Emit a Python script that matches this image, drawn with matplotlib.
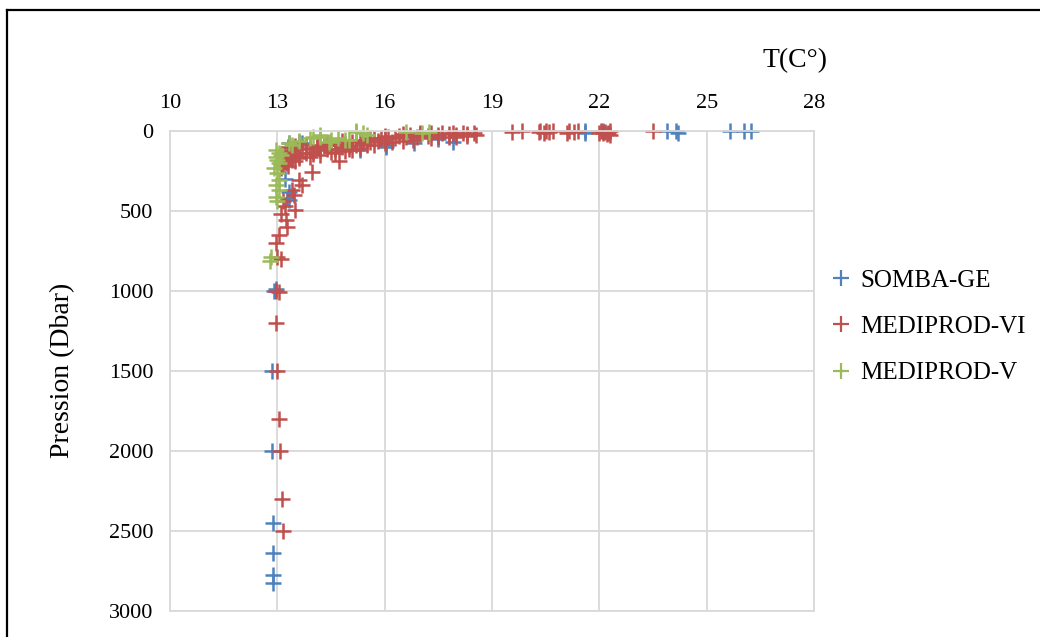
import matplotlib
matplotlib.use("Agg")
import matplotlib.pyplot as plt
from matplotlib.lines import Line2D

# temperature / pressure pairs
somba_t = [21.6, 21.6, 22.1, 23.9, 24.15, 24.2, 25.65, 26.05, 26.25,
           13.33, 13.7, 13.6, 15.3, 16.05, 16.05, 16.83, 17.9, 17.5, 14.5,
           13.33, 13.33, 13.27, 13.2,
           12.9, 12.95, 12.86, 12.86, 12.88, 12.88, 12.88, 12.88]
somba_p = [0, 10, 0, 0, 0, 12, 0, 0, 0,
           75, 75, 69, 119, 100, 88, 75, 69, 50, 90,
           381, 431, 419, 300,
           1000, 990, 1500, 2000, 2450, 2637, 2775, 2825]

vi_t = [23.5,
        22.3, 22.25, 22.2, 22.15, 22.1, 22.05, 22.0, 22.3,
        21.4, 21.3, 21.15, 21.1,
        20.7, 20.6, 20.5, 20.45, 20.35, 20.3,
        19.85, 19.55,
        18.55, 18.5, 18.3, 18.2, 18.0, 17.9, 17.8, 17.6, 17.5, 17.3, 17.2, 17.0,
        16.9, 16.7, 16.6, 16.4, 16.3, 16.1, 16.0, 15.9, 15.8, 15.7, 15.6, 15.5,
        15.4, 15.3, 15.2, 15.1, 15.0, 14.9, 14.8, 14.7, 14.6, 14.5, 14.4, 14.3,
        14.2, 14.1, 14.0, 13.9, 13.8, 13.7, 13.6, 13.5, 13.45, 13.4, 13.35, 13.3,
        13.25, 13.2, 13.2, 13.15, 13.15, 13.1,
        16.5, 16.0, 15.5, 15.0, 14.5, 14.0, 13.6, 17.5, 18.0,
        13.3, 13.5, 13.8, 14.1, 14.4, 14.8, 15.2, 15.6, 16.0, 16.5, 17.0,
        13.4, 13.6, 13.9, 14.2, 14.6, 14.9, 15.3, 15.7, 16.2, 16.8, 17.3,
        17.8, 18.3, 13.25, 13.3, 13.5,
        15.1, 14.73, 13.98, 13.6, 13.7, 13.4, 13.47, 13.5, 13.25, 13.27, 13.15,
        13.2, 13.1, 13.05, 12.97, 13.1, 13.0, 12.97, 13.05, 12.97, 13.0, 13.05,
        13.08, 13.12, 13.15]
vi_p = [0,
        0, 10, 20, 5, 15, 0, 10, 25,
        0, 5, 0, 10,
        0, 5, 0, 10, 0, 5,
        0, 5,
        25, 15, 20, 10, 25, 15, 20, 10, 25, 15, 30, 20,
        35, 25, 40, 30, 45, 35, 55, 45, 60, 50, 70, 55,
        75, 65, 85, 70, 95, 80, 100, 85, 110, 90, 115, 95,
        120, 100, 130, 105, 135, 110, 140, 115, 150, 125, 160, 135,
        170, 145, 190, 160, 210, 230,
        60, 75, 90, 110, 130, 145, 155, 40, 35,
        100, 95, 90, 85, 75, 65, 55, 45, 30, 20, 15,
        180, 170, 160, 150, 140, 125, 105, 90, 70, 55, 45,
        35, 30, 200, 220, 190,
        120, 190, 255, 305, 340, 370, 400, 495, 555, 600, 440,
        470, 520, 650, 700, 800, 790, 1000, 1005, 1200, 1500, 1800,
        2000, 2300, 2500]

v_t = [12.97, 13.05, 13.1, 12.95, 13.0, 13.05, 12.9, 13.0, 13.05, 12.95,
       13.05, 12.97, 13.0, 12.83, 12.8, 13.4, 13.33, 14.2, 14.2, 14.45, 14.5,
       14.7, 14.9, 15.0, 15.2, 15.2, 15.5, 15.4, 16.6, 17.05, 17.25, 13.6,
       13.9, 14.0]
v_p = [119, 135, 150, 165, 181, 200, 230, 260, 306, 340,
       369, 412, 440, 788, 810, 88, 75, 25, 38, 69, 56,
       44, 56, 56, 0, 6, 25, 10, 6, 12, 6, 60,
       45, 35]

names = ["SOMBA-GE", "MEDIPROD-VI", "MEDIPROD-V"]
colors = ["#4F81BD", "#C0504D", "#9BBB59"]

plt.rcParams["font.family"] = ["Liberation Serif", "DejaVu Serif"]

fig = plt.figure(figsize=(10.4, 6.37), dpi=100)
ax = fig.add_axes([0.1635, 0.0408, 0.6192, 0.7535])

series = [(somba_t, somba_p), (vi_t, vi_p), (v_t, v_p)]
handles = []
for (t, p), c, n in zip(series, colors, names):
    ax.plot(t, p, linestyle="none", marker="+", markersize=11, mew=1.8,
            color=c, label=n, clip_on=False)
    handles.append(Line2D([], [], linestyle="none", marker="+", markersize=11,
                          mew=1.6, color=c, label=n))

ax.set_xlim(10, 28)
ax.set_ylim(3000, 0)
ax.set_xticks([10, 13, 16, 19, 22, 25, 28])
ax.set_yticks([0, 500, 1000, 1500, 2000, 2500, 3000])
ax.xaxis.tick_top()
ax.tick_params(length=0, labelsize=16)
ax.tick_params(axis="x", pad=13)
ax.tick_params(axis="y", pad=12)
ax.grid(True, color="#D9D9D9", linewidth=1.3)
ax.set_axisbelow(True)
for s in ax.spines.values():
    s.set_color("#D9D9D9")
    s.set_linewidth(1.3)

fig.text(0.764, 0.905, "T(C°)", fontsize=20, ha="center", va="center")
fig.text(0.06, 0.418, "Pression (Dbar)", fontsize=20, rotation=90,
         ha="center", va="center")

fig.legend(handles=handles, loc="center left", bbox_to_anchor=(0.78, 0.487),
           frameon=False, fontsize=18, handlelength=0.6, handletextpad=0.45,
           labelspacing=0.95)

# outer frame of the original figure (left and top edges)
fig.add_artist(Line2D([0.0067, 1.0], [0.9843, 0.9843], color="black",
                      linewidth=1.6, transform=fig.transFigure))
fig.add_artist(Line2D([0.0067, 0.0067], [0.0, 0.9843], color="black",
                      linewidth=1.6, transform=fig.transFigure))

fig.savefig("out.png", dpi=100)
